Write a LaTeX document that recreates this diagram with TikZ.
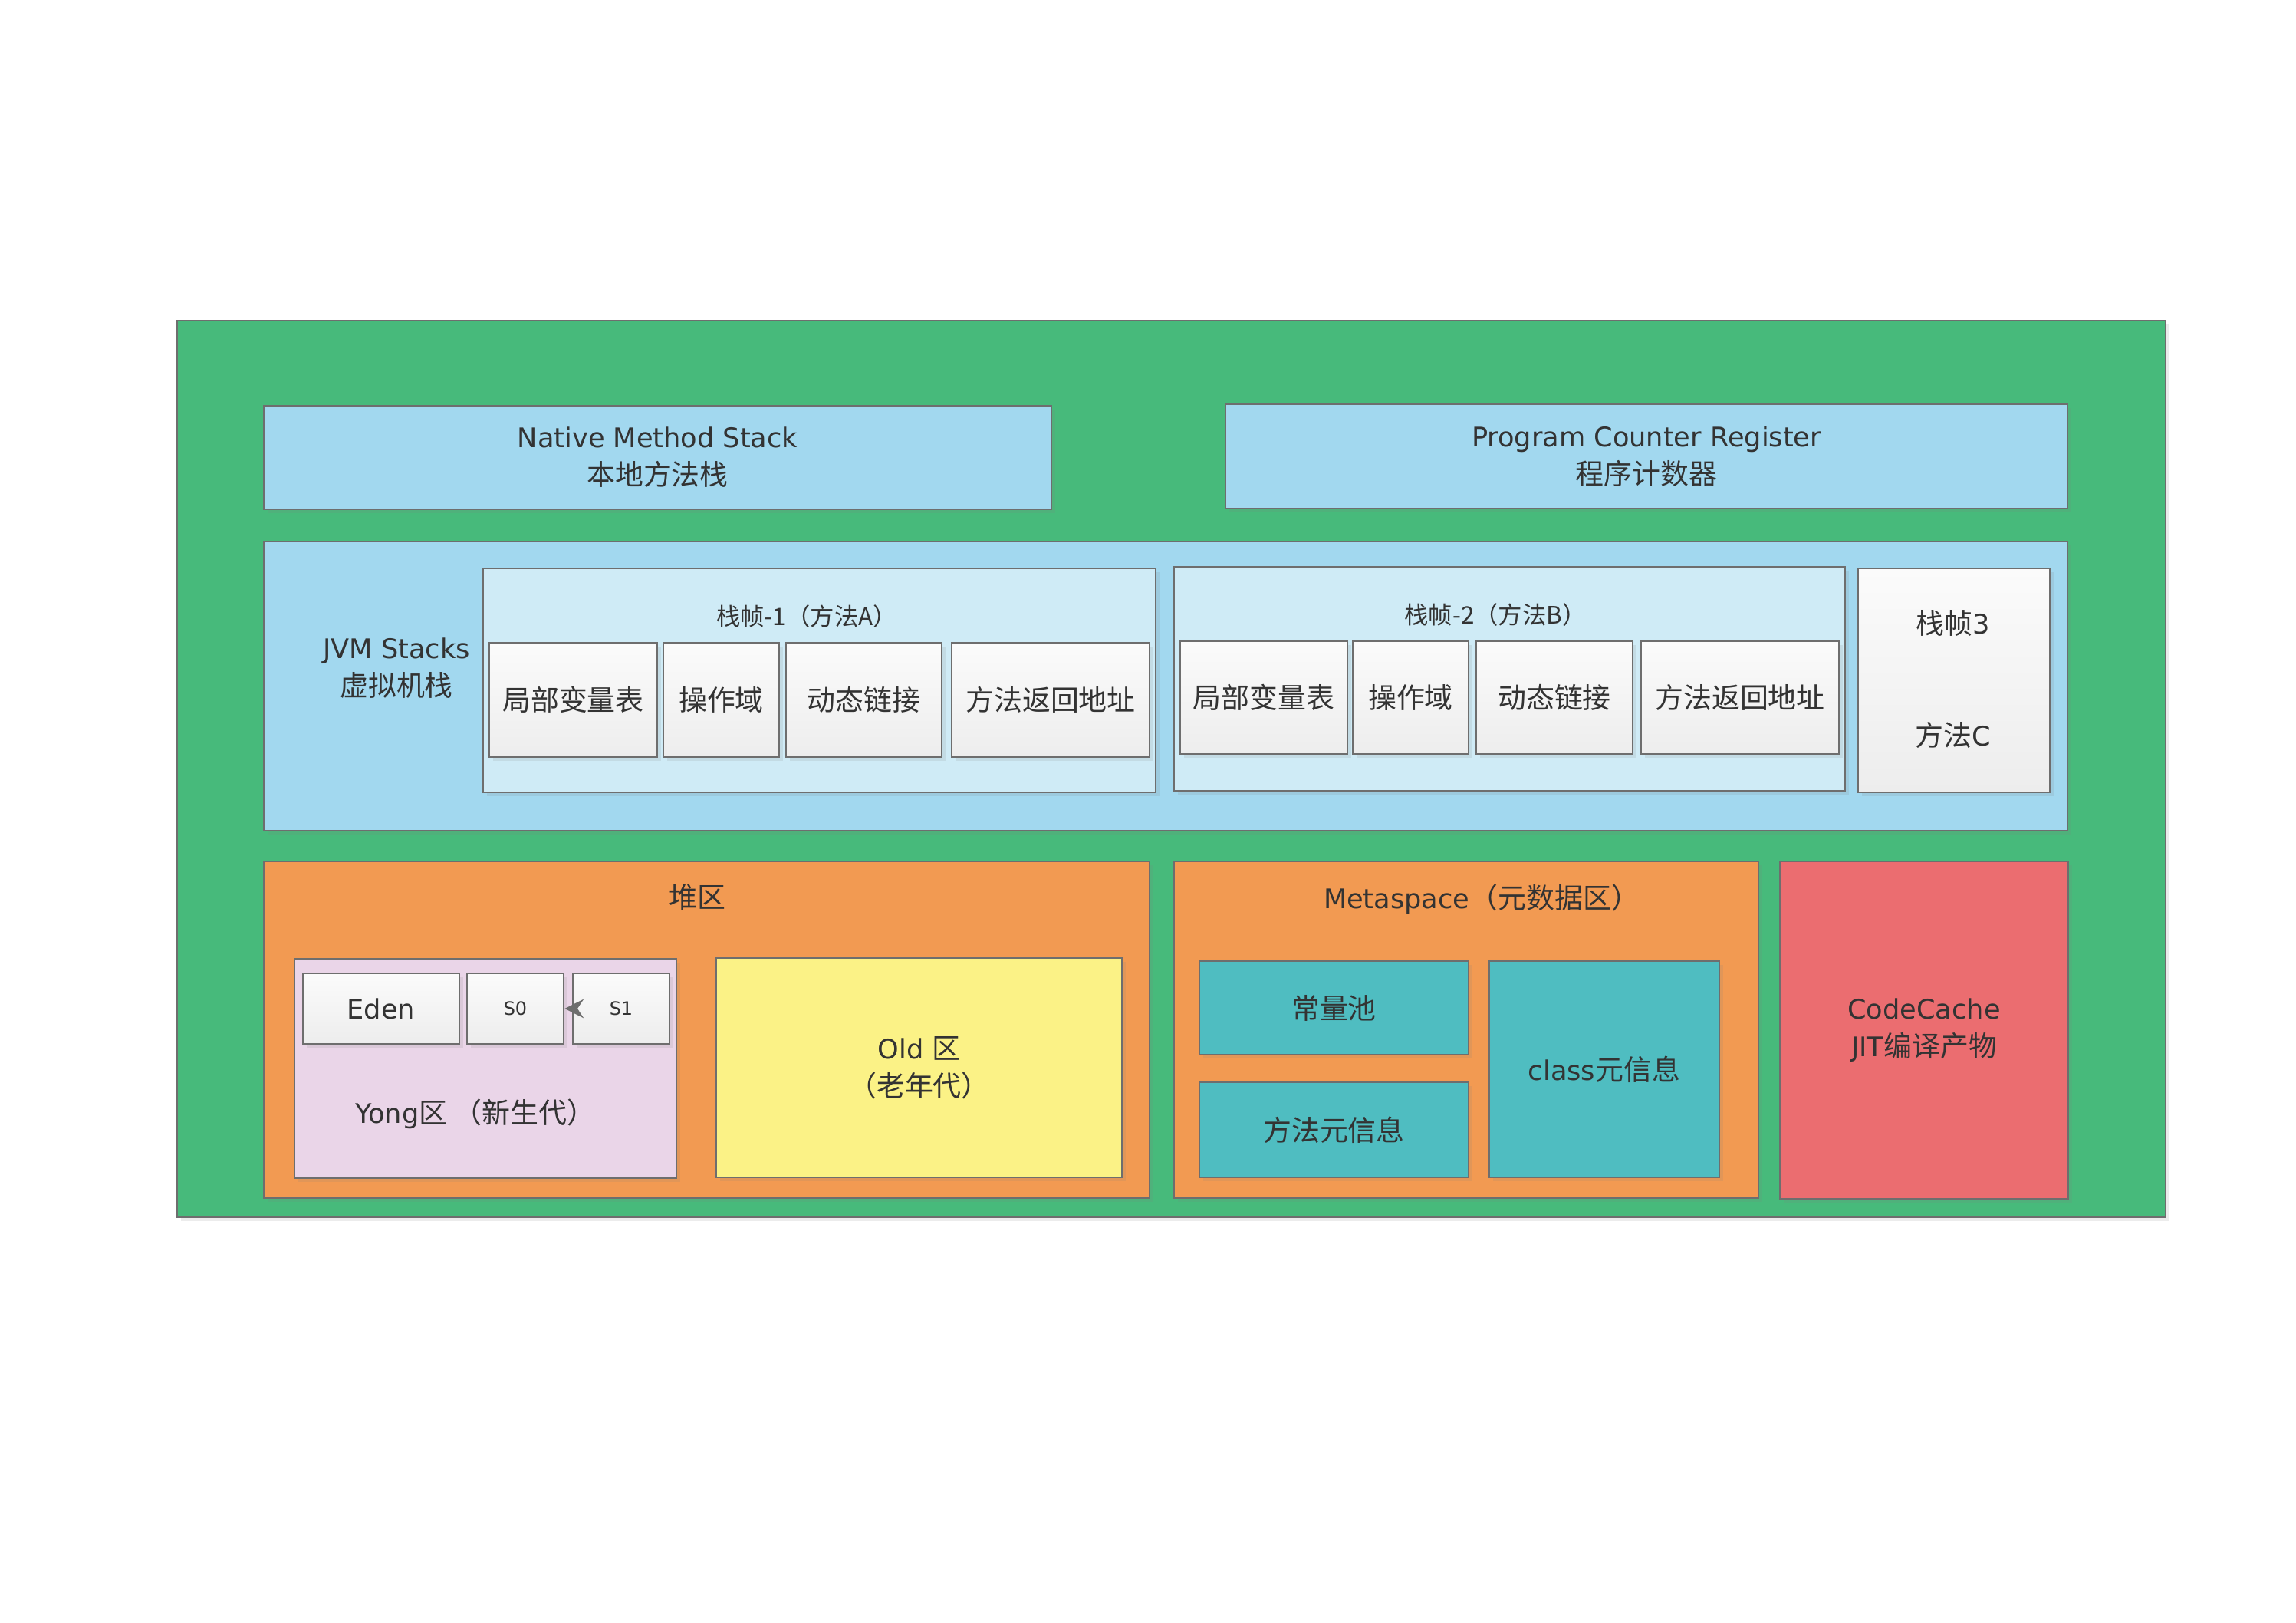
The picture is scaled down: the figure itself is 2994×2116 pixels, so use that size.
\documentclass[tikz,border=0pt]{standalone}
\usepackage{fontspec}
\setmainfont{DejaVu Sans}
\newfontfamily\cjk{Noto Sans CJK SC}[Scale=1.05]
\usetikzlibrary{fit,shadows,arrows.meta}
\definecolor{bggreen}{HTML}{47BA7B}
\definecolor{lblue}{HTML}{A2D8EF}
\definecolor{fblue}{HTML}{CFEBF6}
\definecolor{orng}{HTML}{F29A52}
\definecolor{yong}{HTML}{EAD5E8}
\definecolor{yelw}{HTML}{FBF286}
\definecolor{teal}{HTML}{4FBDC1}
\definecolor{redc}{HTML}{EB6D70}
\definecolor{bord}{HTML}{6E6E6E}
\definecolor{txt}{HTML}{333333}
\definecolor{celltop}{HTML}{FBFBFB}
\definecolor{cellbot}{HTML}{EDEDED}
\begin{document}
\begin{tikzpicture}[x=0.01cm,y=-0.01cm,
  box/.style={draw=bord, line width=0.8pt, inner sep=0pt,
    drop shadow={shadow xshift=0.05cm, shadow yshift=-0.05cm, opacity=0.15}},
  cell/.style={box, top color=celltop, bottom color=cellbot},
  lbl/.style={text=txt, font=\fontsize{10}{14}\selectfont, align=center, inner sep=0pt},
  small/.style={lbl, font=\fontsize{8.5}{11}\selectfont},
  tiny/.style={lbl, font=\fontsize{6.8}{9}\selectfont}
]
\useasboundingbox (0,0) rectangle (2994,2116);
\fill[white] (0,0) rectangle (2994,2116);

% outer
\node[box, fill=bggreen, fit={(231,418) (2824,1587)}] (outer) {};

% top row
\node[box, fill=lblue, fit={(344,529) (1371,664)}] (nms) {};
\node[lbl] (nmst) at (nms.center) {Native Method Stack\\{\cjk 本地方法栈}};
\node[box, fill=lblue, fit={(1598,527) (2696,663)}] (pcr) {};
\node[lbl] (pcrt) at (pcr.center) {Program Counter Register\\{\cjk 程序计数器}};

% JVM stacks
\node[box, fill=lblue, fit={(344,706) (2696,1083)}] (jvm) {};
\node[lbl] (jvmlbl) at (517,871) {JVM Stacks\\{\cjk 虚拟机栈}};

% frame 1
\node[box, fill=fblue, fit={(630,741) (1507,1033)}] (f1) {};
\node[small] (f1t) at (1052,804) {\cjk 栈帧-1（方法A）};
\node[cell, fit={(638,838) (857,987)}] (f1a) {};
\node[lbl] at (f1a.center) {\cjk 局部变量表};
\node[cell, fit={(865,838) (1016,987)}] (f1b) {};
\node[lbl] at (f1b.center) {\cjk 操作域};
\node[cell, fit={(1025,838) (1228,987)}] (f1c) {};
\node[lbl] at (f1c.center) {\cjk 动态链接};
\node[cell, fit={(1241,838) (1499,987)}] (f1d) {};
\node[lbl] at (f1d.center) {\cjk 方法返回地址};

% frame 2
\node[box, fill=fblue, fit={(1531,739) (2406,1031)}] (f2) {};
\node[small] (f2t) at (1950,802) {\cjk 栈帧-2（方法B）};
\node[cell, fit={(1539,836) (1757,983)}] (f2a) {};
\node[lbl] at (f2a.center) {\cjk 局部变量表};
\node[cell, fit={(1764,836) (1915,983)}] (f2b) {};
\node[lbl] at (f2b.center) {\cjk 操作域};
\node[cell, fit={(1925,836) (2129,983)}] (f2c) {};
\node[lbl] at (f2c.center) {\cjk 动态链接};
\node[cell, fit={(2140,836) (2398,983)}] (f2d) {};
\node[lbl] at (f2d.center) {\cjk 方法返回地址};

% frame 3
\node[cell, fit={(2423,741) (2673,1033)}] (f3) {};
\node[lbl] (f3a) at (2547,813) {{\cjk 栈帧}3};
\node[lbl] (f3b) at (2547,958) {{\cjk 方法}C};

% heap
\node[box, fill=orng, fit={(344,1123) (1499,1562)}] (heap) {};
\node[lbl] (heapt) at (909,1170) {\cjk 堆区};
\node[box, fill=yong, fit={(384,1250) (882,1536)}] (yong) {};
\node[cell, fit={(395,1269) (599,1361)}] (eden) {};
\node[lbl] at (eden.center) {Eden};
\node[cell, fit={(609,1269) (735,1361)}] (s0) {};
\node[tiny] at (s0.center) {S0};
\node[cell, fit={(747,1269) (873,1361)}] (s1) {};
\node[tiny] at (s1.center) {S1};
\draw[bord, line width=0.8pt, -{Stealth[length=7pt,width=7pt]}] (s1.west) -- (s0.east);
\node[lbl] (yongt) at (620,1452) {Yong{\cjk 区 （新生代）}};
\node[box, fill=yelw, fit={(934,1249) (1463,1535)}] (old) {};
\node[lbl] at (old.center) {Old {\cjk 区}\\{\cjk （老年代）}};

% metaspace
\node[box, fill=orng, fit={(1531,1123) (2293,1562)}] (meta) {};
\node[lbl] (metat) at (1932,1172) {Metaspace{\cjk （元数据区）}};
\node[box, fill=teal, fit={(1564,1253) (1915,1375)}] (pool) {};
\node[lbl] at (pool.center) {\cjk 常量池};
\node[box, fill=teal, fit={(1564,1411) (1915,1535)}] (minfo) {};
\node[lbl] at (minfo.center) {\cjk 方法元信息};
\node[box, fill=teal, fit={(1942,1253) (2242,1535)}] (cinfo) {};
\node[lbl] at (cinfo.center) {class{\cjk 元信息}};

% code cache
\node[box, fill=redc, fit={(2321,1123) (2697,1563)}] (cc) {};
\node[lbl] at (cc.center) {CodeCache\\JIT{\cjk 编译产物}};
\end{tikzpicture}
\end{document}
